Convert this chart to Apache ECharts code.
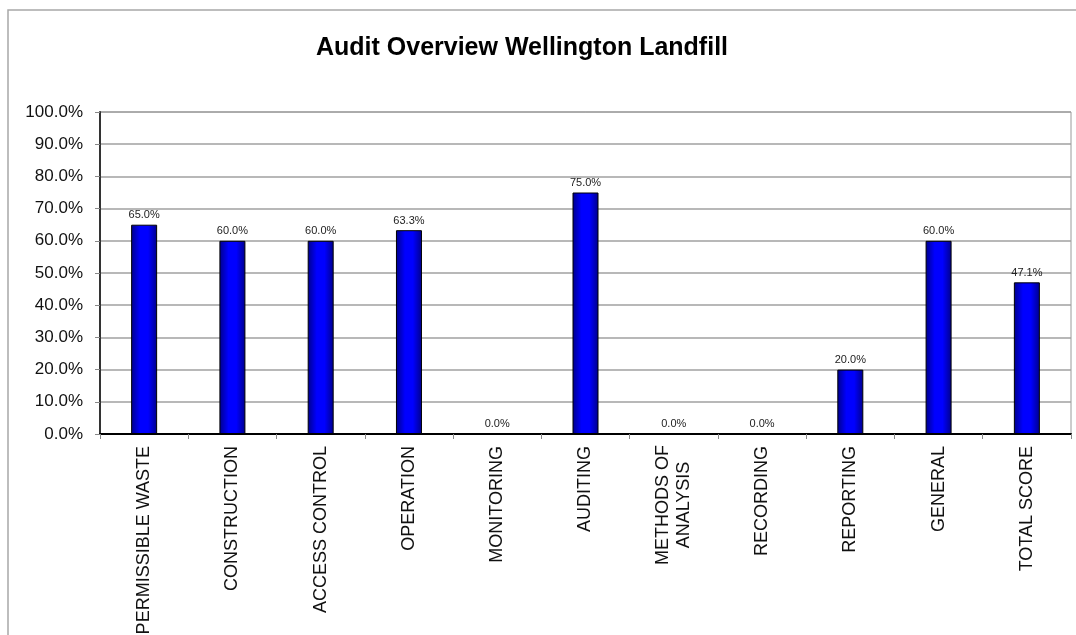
<!DOCTYPE html>
<html>
<head>
<meta charset="utf-8">
<script src="https://cdn.jsdelivr.net/npm/echarts@6/dist/echarts.min.js"></script>
<style>
html,body{margin:0;padding:0;background:#fff;}
#chart{width:1076px;height:635px;}
</style>
</head>
<body>
<div id="chart"></div>
<script>
var titleText = 'Audit Overview Wellington Landfill';
var categories = ['PERMISSIBLE WASTE', 'CONSTRUCTION', 'ACCESS CONTROL', 'OPERATION', 'MONITORING', 'AUDITING', 'METHODS OF\nANALYSIS', 'RECORDING', 'REPORTING', 'GENERAL', 'TOTAL SCORE'];
var scores = [65.0, 60.0, 60.0, 63.3, 0.0, 75.0, 0.0, 0.0, 20.0, 60.0, 47.1];
var yTicks = [0, 10, 20, 30, 40, 50, 60, 70, 80, 90, 100];

var font = '"Liberation Sans", Arial, sans-serif';
var chart = echarts.init(document.getElementById('chart'), null, {renderer: 'canvas'});
chart.setOption({
  animation: false,
  backgroundColor: '#fff',
  title: {
    text: titleText,
    left: 517, top: 31, textAlign: 'center',
    textStyle: {fontFamily: font, fontSize: 25, fontWeight: 'bold', color: '#000'}
  },
  graphic: [{
    type: 'rect', silent: true,
    shape: {x: 8, y: 10, width: 1100, height: 700},
    style: {fill: 'none', stroke: '#a8a8a8', lineWidth: 1.5}
  }],
  grid: {left: 100, right: 5, top: 112, bottom: 201, outerBoundsMode: 'none', containLabel: false, show: true, borderColor: '#9a9a9a', borderWidth: 1, backgroundColor: 'transparent'},
  xAxis: {
    type: 'category',
    data: categories,
    axisLine: {lineStyle: {color: '#000', width: 2}},
    axisTick: {show: true, length: 5, inside: false, lineStyle: {color: '#888', width: 1}},
    axisLabel: {
      rotate: 90, interval: 0, margin: 12,
      fontFamily: font, fontSize: 18, color: '#111',
      formatter: function (v) {
        if (v.indexOf('\n') >= 0) {
          return v.split('\n').map(function (s) { return '{c|' + s + '}'; }).join('\n');
        }
        return v;
      },
      rich: {c: {width: 118, align: 'center', fontFamily: font, fontSize: 18, color: '#111', lineHeight: 21}}
    }
  },
  yAxis: {
    type: 'value', min: 0, max: 100, interval: 10,
    axisLine: {show: true, lineStyle: {color: '#333', width: 2}},
    axisTick: {show: true, length: 5, lineStyle: {color: '#888'}},
    splitLine: {show: true, lineStyle: {color: '#a0a0a0', width: 1.5}},
    axisLabel: {
      margin: 17, fontFamily: font, fontSize: 17, color: '#111',
      formatter: function (v) { return yTicks.indexOf(v) >= 0 ? v.toFixed(1) + '%' : ''; }
    }
  },
  series: [{
    type: 'bar',
    data: scores,
    barWidth: 26,
    itemStyle: {
      color: new echarts.graphic.LinearGradient(0, 0, 1, 0, [
        {offset: 0, color: '#00008a'},
        {offset: 0.35, color: '#0000ff'},
        {offset: 0.65, color: '#0000ff'},
        {offset: 1, color: '#00008a'}
      ]),
      borderColor: '#000', borderWidth: 1
    },
    label: {
      show: true, position: 'top', distance: 4,
      fontFamily: font, fontSize: 11, color: '#222',
      formatter: function (p) { return p.value.toFixed(1) + '%'; }
    }
  }]
});
</script>
</body>
</html>
